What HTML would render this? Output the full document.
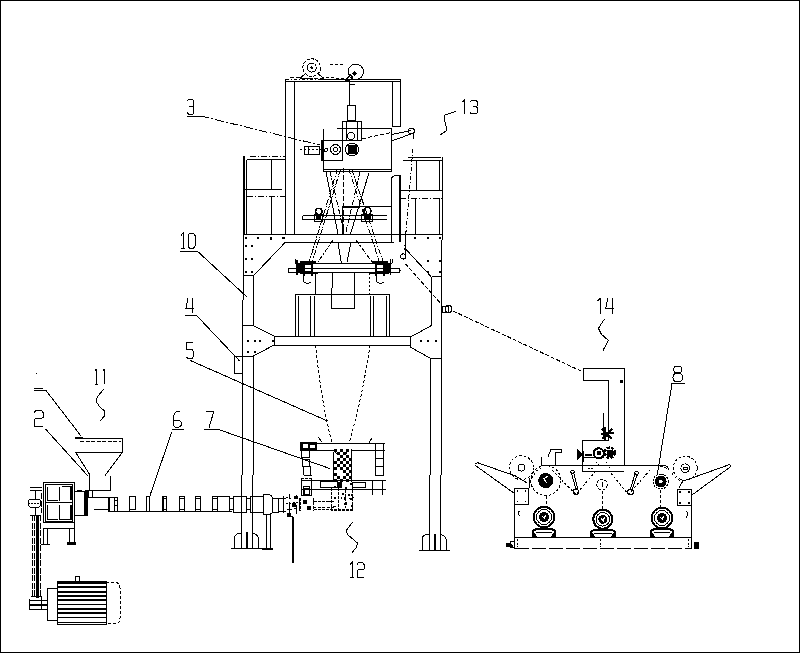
<!DOCTYPE html>
<html><head><meta charset="utf-8"><style>
html,body{margin:0;padding:0;background:#fff;overflow:hidden;}
svg{display:block;}
</style></head><body>
<svg width="800" height="653" viewBox="0 0 800 653">
<g fill="none" stroke="#000" stroke-width="1" stroke-linecap="butt" shape-rendering="crispEdges">
<!-- border -->
<path d="M0 0.5H800M0.5 0V653M799.5 0V653M0 652.5H800"/>

<!-- ===== top housing ===== -->
<path d="M320 79.5H400.5M285.5 81.5H400.5M285.5 79V234M294 81.5V234M392.5 81.5V126M400.5 79.5V126M392 126H400.5"/>
<path d="M285.5 79.5H320" stroke-dasharray="3 2 1 2"/>
<!-- rollers top -->
<circle cx="311.7" cy="67.6" r="8.8" stroke-dasharray="3 1.5"/><circle cx="311.7" cy="67.6" r="4.5"/><circle cx="311.7" cy="67.6" r="0.8" fill="#000"/>
<path d="M300.4 78L306 73M317 73L323.4 78" />
<path d="M300 78.5H324" stroke-dasharray="3 2"/>
<circle cx="355.8" cy="71.8" r="7.7"/>
<circle cx="354.5" cy="73.5" r="2.2" fill="#000" stroke="none"/>
<path d="M346 80L350 75L353 77M343 79L349 81" stroke-width="1.6"/>
<path d="M290 77.5L346 80" stroke-dasharray="4 2"/>
<path d="M329.6 64H342.5M326 77L346 79" stroke-dasharray="3 2"/>
<path d="M349 82V105M347.5 105H355V120H347.5ZM349 80V84H355" />
<path d="M342 121H361V140H342ZM346 121V140M357 121V140"/>
<circle cx="351" cy="136" r="3.5"/>
<!-- main box -->
<path d="M337 128.5H391.5V171.5H323.3V140M323.3 169.5H391.5M323.3 128.5V140"/>
<rect x="321.5" y="140" width="21.2" height="20.5"/>
<path d="M322 140V160.5" stroke-width="2.5"/>
<rect x="304" y="146" width="15.8" height="8"/>
<path d="M308 146V154"/>
<circle cx="335.5" cy="149.5" r="5"/><circle cx="335.5" cy="149.5" r="2"/>
<circle cx="352" cy="149.5" r="6.5"/><rect x="348" y="145.5" width="8" height="8" fill="#000"/>
<path d="M300 149H321" stroke-dasharray="2 2"/>
<path d="M362.5 138.7L391 132.5" stroke-dasharray="4 2"/>
<circle cx="326" cy="150" r="1.5"/>
<!-- arm right -->
<path d="M391.5 134.5L411 130.5M391.5 141L411 134"/>
<circle cx="411.3" cy="131" r="3"/>
<path d="M413 132V139"/>
<!-- leader 3 -->
<path d="M187 116H200.5" />
<path d="M200.5 116L320 145" stroke-dasharray="9 2 2 2"/>
<!-- label 13 squiggle -->
<path d="M455.8 111.4L446 114.8L444.3 115.2L444.8 121.6L447 130L442.5 133.6L440.2 134.5" />

<!-- ===== left small tower ===== -->
<path d="M243.5 156V300M242.5 300V475M241.5 475V548.5M246.5 159.5V234M246.5 159.5H284.5" />
<path d="M250 156.5H285M247 196.5H285.5" stroke-dasharray="6 2 1 2"/>
<path d="M271.8 159.7V189.7M243.5 189.7H282M271.8 197V234"/>
<path d="M244 156V234" stroke-width="1"/>
<path d="M285.5 157V234" />
<!-- ===== right small tower ===== -->
<path d="M403.2 160.5H442M408 157.5H441M442.5 157V240M441.5 240V475M440.5 475V550.5M439.5 160V190.3M416.8 159.7V190.3M400 190.3H442.5M415 198.3V235M439.7 198.3V235"/>
<path d="M412.8 149L404.5 250" stroke-dasharray="4 2 1 2"/>
<path d="M391.4 242V179Q392 175.7 396 175.7H400V242"/>
<path d="M400 176V242" stroke-width="1.8"/>
<path d="M400 198.3H442.5" stroke-dasharray="6 2 1 2"/>
<path d="M385 171.5H391.4V150"/>
<path d="M400 234.8H405.4V255"/>
<circle cx="403.2" cy="256.5" r="2.6"/>

<!-- ===== main beams ===== -->
<path d="M243.5 234.5H443M285.2 242.4H394M254.4 274.7L285.2 242.4M405.4 248.7L431.1 276.6"/>
<!-- bolt dots -->
<g fill="#000" stroke="none">
<rect x="245" y="237" width="2" height="2"/><rect x="257" y="237" width="2" height="2"/><rect x="270" y="237" width="1.5" height="3"/><rect x="282" y="237" width="2.5" height="2"/>
<rect x="245" y="245" width="2" height="2"/><rect x="251" y="245" width="2" height="2"/>
<rect x="245" y="258" width="2" height="2"/><rect x="251" y="258" width="2" height="2"/>
<rect x="245" y="271" width="2" height="2"/><rect x="251" y="271" width="2" height="2"/>
<rect x="414" y="237" width="2" height="2"/><rect x="427" y="237" width="2" height="2"/><rect x="438.7" y="237" width="2" height="2"/>
<rect x="427" y="259.5" width="2" height="2"/><rect x="438.7" y="259.5" width="2" height="2"/>
<rect x="427" y="271.3" width="2" height="2"/><rect x="438.7" y="271.3" width="2" height="2"/>
</g>
<!-- columns -->
<path d="M243.5 275.5H254.4M253.5 275.5V325.6M253.5 356V475M252.5 475V548.5M431.5 276.5V325.5M430.5 358.3V475M429.5 475V550.5M431.5 276.5H441.5"/>
<!-- gussets -->
<path d="M242.5 325.6H253.5L274 336V345L253.5 356H234.5"/>
<path d="M431.5 325.5L410 337.3V347L430.5 358.3H441.5"/>
<g fill="#000" stroke="none">
<rect x="247" y="340" width="2" height="2"/><rect x="254" y="340" width="2" height="2"/><rect x="259" y="340" width="2" height="2"/>
<rect x="247" y="351" width="2" height="2"/><rect x="254" y="351" width="2" height="2"/><rect x="271.5" y="340" width="2" height="2"/>
<rect x="420" y="340" width="2" height="2"/><rect x="427" y="340" width="2" height="2"/><rect x="435" y="340" width="2" height="2"/>
</g>
<!-- middle beam -->
<path d="M274 336.3H410M274 345.5H410"/>
<!-- box below bar -->
<path d="M295 294.5H389.4V336.6M295 294.5V336.6M298.4 296V336M310.6 296V336M314 296V336M370 296V336M373.7 296V336M386 296V336"/>
<path d="M331.7 287.5V308.5H354.4V287.5M315 274V294M332.8 273V287.5M354 273V287.5"/>
<path d="M369 273V294" stroke-dasharray="2 2"/>
<!-- lower bar -->
<path d="M289 268.2H399M289 272.8H399M295.4 263H392.2M295.4 259V263M392.2 259V263M289 268.2Q287.3 270.5 289 272.8M399 268.2Q401 270.5 399 272.8"/>
<g stroke-width="1.1">
<path d="M297 260V275M300 262H316M300 273H318M304 262V276M312 261V276M372 262H388M370 273H389M376 262V276M384 261V276M390.5 259V275"/>
<circle cx="308" cy="268" r="4.5" stroke-width="2"/><circle cx="380" cy="268" r="4.5" stroke-width="2"/>
<path d="M299 264H303V272H299ZM386 264H390V272H386Z" fill="#000"/>
</g>
<path d="M303 274V281Q306 285 311 282M376 274V281Q379 285 384 282"/>
<!-- upper bar -->
<path d="M302.6 215.5H386.7M302.6 219.7H386.7M302.6 215.5V219.7M342 206H391.8M342 206V234"/>
<path d="M342 206.5H360" stroke-width="2"/>
<circle cx="318.7" cy="211.5" r="3.2" stroke-width="1.6"/><circle cx="367.5" cy="211" r="3.5" stroke-width="1.6"/>
<path d="M314.4 214H322V221H314.4ZM361 214H372V221H361Z"/>
<path d="M316 216H320V219H316ZM364 216H370V219H364Z" fill="#000"/>
<!-- scissor lattice -->
<path d="M326.1 171.7L337.9 234M338 242.4L341.3 262.6M369 172.6L350.5 234M351 242L347 262" />
<path d="M337.5 168.7L308.7 263.7M340.5 169L312 263M348.7 168.7L380 263.7M351.7 169L383.5 263" stroke-dasharray="6 1.5 1.5 1.5"/>
<path d="M343.7 168V234" stroke-dasharray="5 2"/>
<path d="M330 172L345 236M360 172L345 236M333 240L318 262M356 240L372 262" stroke-dasharray="5 1.5 1.5 1.5"/>
<!-- dashed leader/web lines -->
<path d="M405.4 263.7L442 305M453 311L583 372" stroke-dasharray="4 2"/>
<rect x="442" y="306" width="6" height="6.5"/><circle cx="448.5" cy="309" r="3.5"/>
<!-- cone -->
<path d="M315.5 345Q321 400 332 443M370 345Q362 400 349 443" stroke-dasharray="3 2"/>

<!-- feet -->
<path d="M231.2 548.5H273M234.5 548.5V538Q235 534 239 533.5H241.5M252.5 533.5Q257 534 258.5 538V548.5M266.4 514.5V548.5M270.5 514.5V548.5" />
<path d="M247 532V548.5" stroke-width="2"/>
<path d="M262 548.5H273" stroke-width="2"/>
<path d="M419.3 550.5H450M422.5 550V538Q423 535 427 534.5H429.5M440.5 534.5Q445 535.5 446.5 540V550" />
<path d="M435 534V549.5" stroke-width="2"/>
<!-- small box at column (4) -->
<rect x="234.7" y="356" width="8" height="17"/>
<!-- leaders left -->
<path d="M180 251.5H197.7L247 297M185 315.4H196.5L239.6 361M190.3 360.5L327.5 421M171.8 432L150 495.5M204 429.3H218L330 468.6M172 429.3H184"/>
<!-- ===== extruder ===== -->
<!-- hopper -->
<path d="M75 438H122M75 452.5H122M122 438V452.5M76 453L90 475M122 453L105 475.5M89 475V490M110.5 476V490M85 490H110.5"/>
<path d="M80 441.5H121" stroke-dasharray="4 1.5"/>
<path d="M75 438H83" stroke-width="2"/>
<!-- leaders 11 / 2 -->
<path d="M34 388H43M34 390.5H46L81 436M45.5 429L88 476"/>
<path d="M104 389L97.5 396.5L96 401L99 406L104.5 411L104.5 416L100 421"/>
<rect x="36" y="372.5" width="1" height="1" fill="#000" stroke="none"/>
<!-- gearbox -->
<rect x="43.5" y="482.5" width="31" height="40"/>
<rect x="45.5" y="484.5" width="27" height="36.5"/>
<path d="M47.5 486.5V500H57.5M59.5 486.5V501M61.5 486.5H71V500M47.5 505V519.5H57.5M59.5 505V519.5H71V505M45.5 502.5H72.5"/>
<path d="M47.5 487V500M71 487V500M47.5 505V519M71 505V519" stroke-width="1.6"/>
<path d="M43.5 528.5H74.5M43.5 528V544M47.5 528V544M69.5 528V544M74.5 522.5V544M41 544.5H50"/>
<rect x="67" y="542" width="9" height="3" fill="#000" stroke="none"/>
<rect x="74.5" y="491" width="9.8" height="24"/>
<rect x="77" y="489.5" width="5" height="2" fill="#000" stroke="none"/>
<path d="M86.5 490V516" stroke-width="3"/>
<path d="M85 490V516"/>
<rect x="88.5" y="490.5" width="4" height="6.5"/>
<!-- rod assembly -->
<path d="M30 487.5H41.8M30 490H41.8M35.5 490V499M35.5 508V515"/>
<rect x="28" y="499" width="13" height="8.7" rx="4"/>
<path d="M28 503H41" stroke-dasharray="2 1"/>
<path d="M41.5 493V513M30 515H41M32 515V598M34.5 515V598M40 515V598" stroke-dasharray="6 1.5"/>
<path d="M37.5 515V598" stroke-width="2.4"/>
<!-- barrel -->
<path d="M92.5 497.5H108.5M108.5 511.5H232M94 509.5H108" />
<path d="M108.5 497V511.5" stroke-width="2"/>
<path d="M108.5 497.5H117.5V511.5M114.5 497.5V511.5M114.5 500H117.5M114.5 505H117.5"/>
<path d="M129.5 511.5V496.5H135V509.5H129.5M146 511.5V496.5H149.5V511.5M162 511.5V496.5H166.5V511.5M162 498.5H166.5M162 509H166.5M179.5 511.5V496.5H184V511.5M179.5 498.5H184M179.5 509H184M195 511.5V496.5H200.5V511.5M195 498.5H200.5M195 509H200.5M212 511.5V496.5H217V511.5M212 498.5H217M212 509H217"/>
<path d="M162.5 497V511" stroke-width="2"/>
<path d="M217 496.5H229.5V512M229.5 498.5H233.5V509.5H229.5M233.5 496.5H246.5V512H233.5ZM246.5 498.5H250.5V509.5H246.5M250.5 496.5H263.5V512H250.5Z"/>
<path d="M263.7 494.5H269Q272.8 495.5 272.8 500V510Q272.8 514 269 514.5H263.7ZM272.8 498H278.3V512H272.8"/>
<path d="M266.4 514.5V548M270.5 514.5V548"/>
<path d="M293 518V563" stroke-width="2.4"/>
<path d="M291.5 516L294 518" stroke-width="1.5"/>
<!-- gear cluster -->
<g stroke-width="1">
<path d="M278.3 498H286M278.3 511H286M283 496V513M289 494V498M289 502V515M296 495V499M296 505V514M299.5 498V511"/>
<path d="M286 497L293 499M286 504L298 502M287 510L297 508" stroke-dasharray="2 1.5"/>
<path d="M287 513H290V516H287ZM292 503H295V506H292ZM294 496H297V498H294Z" fill="#000"/>
<path d="M300.4 498V510.8M313.2 498V510.8" stroke-dasharray="3 1"/>
<path d="M303 500H306V503H303ZM307 506H310V509H307Z" fill="#000"/>
</g>
<path d="M313.2 501.6H335M313.2 507H335" stroke-dasharray="3 1.5"/>
<path d="M301.3 478.7H311.4V495.2H301.3Z" stroke-dasharray="3 1"/>
<path d="M303.5 486H309V494H303.5Z"/>
<!-- motor -->
<rect x="57" y="581.5" width="49" height="42.5"/>
<g stroke-width="1.8">
<path d="M57 583H106M57 587.3H106M57 591.6H106M57 595.9H106M57 600.2H106M57 604.5H106M57 608.8H106M57 613.1H106M57 617.4H106M57 622.5H106"/>
</g>
<path d="M106 582.5H116Q120 583 120 588V618Q120 623 116 623.5H106" stroke-dasharray="3 2"/>
<path d="M57 588H47.5V620H57" />
<path d="M47.5 600H29V609H47.5M29 599V609M31 596H41V609" />
<path d="M29 604.5H47.5" stroke-width="2"/>
<path d="M75 582V576H79L80 579Q80 582 77 582"/>
<!-- ===== die head (7) ===== -->
<path d="M300.5 443H384.5M300.5 450.4H336M352 450.4H384.5M301 480.3H386M301 489.2H386"/>
<rect x="300.5" y="442" width="16" height="8.4" fill="#000"/>
<rect x="303" y="444" width="5" height="4" fill="#fff" stroke="none"/>
<rect x="310" y="444.5" width="4.5" height="3.5" fill="#fff" stroke="none"/>
<path d="M301.5 450.7H309.5V457.5H301.5ZM302 459H309V466H302ZM303 466.5H310.5L311 475H304Z"/>
<path d="M375 443V476M383 443V476M375.5 450.7H383M376 458H383M375 466H383.5V475H376Z"/>
<path d="M372 479.6V494.7M382 479.6V494.7M301 479V495.4H311.5V479M304 488H309V494H304Z"/>
<path d="M320.5 481.5H337.7V487.5H320.5Z"/>
<path d="M352 482H365V487H352Z"/>
<path d="M331.5 488V510H352.8V488M314 501.6H331.5M314 509H352.8M338 488V510M345 490V508" stroke-dasharray="3 1"/>
<path d="M318 437L322 442M372 438L369 443"/>
<!-- checker -->
<g fill="#000" stroke="none">
<rect x="334" y="449" width="3" height="3"/>
<rect x="340" y="449" width="3" height="3"/>
<rect x="346" y="449" width="3" height="3"/>
<rect x="337" y="452" width="3" height="3"/>
<rect x="343" y="452" width="3" height="3"/>
<rect x="340" y="455" width="3" height="3"/>
<rect x="346" y="455" width="3" height="3"/>
<rect x="337" y="458" width="3" height="3"/>
<rect x="343" y="458" width="3" height="3"/>
<rect x="349" y="458" width="3" height="3"/>
<rect x="334" y="461" width="3" height="3"/>
<rect x="340" y="461" width="3" height="3"/>
<rect x="346" y="461" width="3" height="3"/>
<rect x="337" y="464" width="3" height="3"/>
<rect x="343" y="464" width="3" height="3"/>
<rect x="349" y="464" width="3" height="3"/>
<rect x="334" y="467" width="3" height="3"/>
<rect x="340" y="467" width="3" height="3"/>
<rect x="346" y="467" width="3" height="3"/>
<rect x="343" y="470" width="3" height="3"/>
<rect x="349" y="470" width="3" height="3"/>
<rect x="334" y="473" width="3" height="3"/>
<rect x="346" y="473" width="3" height="3"/>
<rect x="337" y="476" width="3" height="3"/>
<rect x="343" y="476" width="3" height="3"/>
<rect x="349" y="476" width="3" height="3"/>
<rect x="334" y="479" width="3" height="3"/>
<rect x="340" y="479" width="3" height="3"/>
<rect x="346" y="479" width="3" height="3"/>
<rect x="348" y="494" width="2" height="2"/>
<rect x="334" y="486" width="2" height="2"/>
<rect x="351" y="494" width="2" height="2"/>
<rect x="342" y="493" width="2" height="2"/>
<rect x="344" y="498" width="2" height="2"/>
<rect x="350" y="483" width="2" height="2"/>
<rect x="345" y="487" width="2" height="2"/>
<rect x="350" y="498" width="2" height="2"/>
<rect x="349" y="498" width="2" height="1"/>
<rect x="333" y="506" width="3" height="1"/>
<rect x="339" y="484" width="2" height="1"/>
<rect x="338" y="504" width="1" height="1"/>
<rect x="344" y="503" width="3" height="2"/>
<rect x="344" y="497" width="2" height="2"/>
<rect x="337" y="483" width="1" height="1"/>
<rect x="334" y="497" width="2" height="2"/>
<rect x="338" y="489" width="1" height="2"/>
<rect x="338" y="509" width="3" height="2"/>
<rect x="341" y="497" width="1" height="2"/>
<rect x="351" y="505" width="2" height="2"/>
<rect x="345" y="502" width="2" height="2"/>
<rect x="352" y="497" width="2" height="1"/>
<rect x="337" y="482" width="5" height="6"/>
</g>
<path d="M333.5 452V482M351.5 449V482"/>
<path d="M333 450L338 455M349 449L346 454"/>
<!-- squiggle 12 -->
<path d="M352.7 522L346.3 530.5L347.3 534.3L357.5 543L356 548L352 552.5"/>

<!-- ===== right machine (14 / 8) ===== -->
<!-- L shape box -->
<path d="M583 368.5H624V466M583 368.5V380.5H608.6V440.2H582V471H624"/>
<rect x="619.5" y="380" width="3" height="3" fill="#000" stroke="none"/>
<path d="M603.3 413V438"/>
<path d="M602 429L612 439M612 429L602 439M601 434H608M605 427V440" stroke-width="1.6"/>
<path d="M603 432H607V436H603Z" fill="#000"/>
<path d="M608 432.5H614" stroke-width="2"/>
<path d="M582 457.6H604"/>
<circle cx="598.8" cy="453.3" r="5" stroke-width="2.2"/>
<circle cx="609.8" cy="452.7" r="5" stroke-width="2.6" stroke-dasharray="3 1"/>
<path d="M607.5 450.5H612V455H607.5Z" fill="#000"/>
<rect x="596.5" y="451" width="4" height="4" fill="#000" stroke="none"/>
<path d="M577.4 449L583 455L577.4 460Z" fill="#000" stroke="none"/>
<path d="M583 451V462M585 455H592" stroke-width="1.5"/>
<path d="M596 462L600 466M606 462L610 468M588 468H594" stroke-dasharray="1.5 1.5"/>
<!-- squiggle 14 -->
<path d="M604.5 319L598.4 328.3L601.5 334.4L608.4 340.5L603 350.5"/>
<!-- 8 leader -->
<path d="M672 383.1H685M672 383.5L657.2 475"/>
<!-- frame top -->
<path d="M541 465.6H582M624 465.6H665Q668 466 668.6 469.8M582 465.6H624" />
<path d="M541.6 465.6V457M548 457L551 449H561.3V452H555V465.6"/>
<!-- left arm -->
<path d="M475 463.5L477.6 462.7L515.5 476L527.3 483M475 465.2L513.8 493M529.8 478V487.5"/>
<circle cx="521.4" cy="467.7" r="12" stroke-dasharray="2.5 2"/>
<circle cx="521.4" cy="467.7" r="3.4"/>
<!-- left box + frame -->
<rect x="514.7" y="488" width="13.3" height="16"/>
<g fill="#000" stroke="none"><rect x="516.5" y="490" width="1.5" height="1.5"/><rect x="524.5" y="490" width="1.5" height="1.5"/><rect x="516.5" y="500.5" width="1.5" height="1.5"/><rect x="524.5" y="500.5" width="1.5" height="1.5"/>
<rect x="679" y="491" width="1.5" height="1.5"/><rect x="688" y="491" width="1.5" height="1.5"/><rect x="679" y="502" width="1.5" height="1.5"/><rect x="688" y="502" width="1.5" height="1.5"/></g>
<path d="M514.5 504V548.5M514.5 537.5H691.5M691.5 489V548.5"/>
<path d="M514.5 548.5H691.5" stroke-dasharray="14 3"/>
<path d="M520 511Q516 513 520 516M686 511Q690 513 686 517.5"/>
<!-- roller 1 -->
<circle cx="545.8" cy="480.6" r="15" stroke-dasharray="2.5 2"/>
<circle cx="545.8" cy="480.6" r="7.6" fill="#000" stroke="none"/>
<path d="M543 478L547 483M548 476L544 479" stroke="#fff"/>
<!-- roller 2 open -->
<circle cx="602" cy="484.7" r="5.3" stroke-dasharray="3 1.5"/>
<path d="M602 482V487"/>
<!-- roller 3 -->
<circle cx="660.7" cy="481.5" r="7.5" stroke-dasharray="2 1"/>
<circle cx="660.7" cy="481.5" r="6" fill="#000" stroke="none"/>
<circle cx="660.7" cy="481.5" r="2" fill="#fff" stroke="none"/>
<!-- right roller + arm -->
<circle cx="685.2" cy="468.2" r="12" stroke-dasharray="2.5 2"/>
<circle cx="685.2" cy="468.2" r="4.3"/>
<path d="M683.5 467H687V469.5H683.5Z"/>
<path d="M683.6 481L729.7 464.5M692 495L730.7 466.6M729.7 464.5L730.7 466.6M678.8 488.6Q680 485 683 481"/>
<rect x="677.7" y="489" width="13.9" height="16.2"/>
<!-- dancers -->
<path d="M571.4 472.4L576 490M573.5 472L578 489.5"/>
<circle cx="575.8" cy="491.7" r="2.8"/><circle cx="572.4" cy="472" r="1.8"/>
<path d="M635.3 473.3L630 490M637.5 474L632 490"/>
<circle cx="630.5" cy="492" r="2.8"/><circle cx="636.5" cy="473" r="1.8"/>
<!-- web path -->
<path d="M552 470L575.8 494.5L596.8 469.8M610.8 473L628.3 494.5L651 469M660 466Q666 467 668 470M671.8 473Q676 480 683 481M530 483Q535 470 541 468" stroke-dasharray="2.5 2"/>
<!-- motors -->
<g>
<circle cx="544" cy="517" r="10.2" stroke-width="2"/><circle cx="544" cy="517" r="7.5"/><circle cx="544" cy="517" r="4.5" fill="#000"/><path d="M542.0 516.0L545.0 519.0M546.0 515.0L544.0 518.0" stroke="#fff"/>
<path d="M533 537V531L536 529H552L555 531V537" stroke-width="2.2"/><path d="M536 532.5H552"/>
<circle cx="602.8" cy="519.3" r="9.5" stroke-width="2"/><circle cx="602.8" cy="519.3" r="6.8"/><circle cx="602.8" cy="519.3" r="4" fill="#000"/><path d="M600.8 518.3L603.8 521.3M604.8 517.3L602.8 520.3" stroke="#fff"/>
<path d="M591 537V531.5L594 530H612L615 531.5V537" stroke-width="2.2"/><path d="M594 533.5H612"/>
<circle cx="662" cy="518" r="10.2" stroke-width="2"/><circle cx="662" cy="518" r="7.5"/><circle cx="662" cy="518" r="4.5" fill="#000"/><path d="M660.0 517.0L663.0 520.0M664.0 516.0L662.0 519.0" stroke="#fff"/>
<path d="M651 537V531L654 529H670L673 531V537" stroke-width="2.2"/><path d="M654 532.5H670"/>
</g>
<path d="M546 496V506M602 491V509M660.7 490V507" stroke-dasharray="3 2"/>
<path d="M533 537V532L537 537ZM555 537V532L551 537ZM591 537V532L595 537ZM615 537V532L611 537ZM651 537V532L655 537ZM673 537V532L669 537Z" fill="#000"/>
<path d="M506 543H510V547H506ZM510 541V548H514" fill="#000" stroke="none"/>
<path d="M510 541H514V548" />
<path d="M517.5 539V547M600 539V547M688 539V547" stroke-dasharray="2 1.5"/>
<path d="M694 542H699V548.5H694Z" fill="#000" stroke="none"/>

</g>
<g fill="none" stroke="#000" stroke-width="1" shape-rendering="crispEdges">
<path d="M 187.00 100.95 L 188.44 99.49 H 192.78 L 193.74 100.46 V 105.34 L 192.78 106.31 H 189.41 M 192.78 106.31 L 193.74 107.29 V 113.14 L 192.78 114.11 H 188.44 L 187.00 112.65"/>
<path d="M 462.00 102.23 L 464.50 100.00 V 114.30"/>
<path d="M 470.00 101.79 L 471.50 100.45 H 476.00 L 477.00 101.34 V 105.81 L 476.00 106.70 H 472.50 M 476.00 106.70 L 477.00 107.60 V 112.96 L 476.00 113.85 H 471.50 L 470.00 112.51"/>
<path d="M 181.00 235.44 L 183.19 233.00 V 248.60 M 181.00 248.60 H 185.38"/>
<path d="M 189.75 233.00 H 193.25 L 195.00 235.44 V 246.16 L 193.25 248.60 H 189.75 L 188.00 246.16 V 235.44 Z"/>
<path d="M 188.00 298.00 L 186.00 308.04 H 194.00 M 192.00 298.00 V 313.30"/>
<path d="M 193.00 342.50 H 186.00 V 349.50 H 192.00 L 193.00 351.00 V 357.00 L 192.00 358.50 H 188.00 L 186.00 357.00"/>
<path d="M 179.88 411.00 H 176.50 L 173.12 416.16 V 425.44 L 175.38 427.50 H 178.75 L 181.00 425.44 V 421.83 L 179.88 420.80 H 173.12"/>
<path d="M 206.00 411.00 H 214.00 L 209.00 427.50"/>
<path d="M 95.00 371.34 L 96.25 369.00 V 384.00 M 95.00 384.00 H 97.50"/>
<path d="M 103.00 371.34 L 104.25 369.00 V 384.00"/>
<path d="M 34.20 412.58 L 36.45 410.00 H 40.95 L 43.20 412.58 V 417.22 L 41.51 418.25 H 35.89 L 34.20 419.80 V 426.50 H 43.20"/>
<path d="M 350.00 564.45 L 352.19 562.00 V 577.70 M 350.00 577.70 H 354.38"/>
<path d="M 357.00 564.45 L 358.75 562.00 H 362.25 L 364.00 564.45 V 568.87 L 362.69 569.85 H 358.31 L 357.00 571.32 V 577.70 H 364.00"/>
<path d="M 597.70 300.79 L 600.33 298.40 V 313.70"/>
<path d="M 607.80 298.40 L 605.70 308.44 H 614.10 M 612.00 298.40 V 313.70"/>
<path d="M 677.75 366.00 Q 673.59 366.00 673.59 369.50 Q 673.59 373.00 677.75 373.00 Q 681.91 373.00 681.91 369.50 Q 681.91 366.00 677.75 366.00 Z M 677.75 373.00 Q 673.00 373.00 673.00 377.50 Q 673.00 382.00 677.75 382.00 Q 682.50 382.00 682.50 377.50 Q 682.50 373.00 677.75 373.00 Z"/>
</g>
</svg>
</body></html>
